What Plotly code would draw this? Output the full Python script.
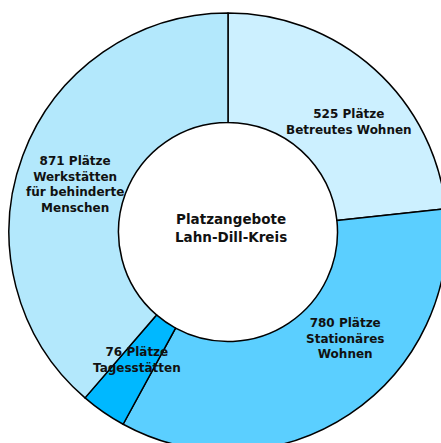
import plotly.graph_objects as go

categories = ["Betreutes Wohnen", "Stationäres Wohnen", "Tagesstätten", "Werkstätten für behinderte Menschen"]
label_lines = ["Betreutes Wohnen", "Stationäres<br>Wohnen", "Tagesstätten", "Werkstätten<br>für behinderte<br>Menschen"]
values = [525, 780, 76, 871]
colors = ["#CCF0FF", "#5BCFFF", "#00B8FF", "#B3E8FC"]
center_title = "Platzangebote<br>Lahn-Dill-Kreis"

W, H = 460, 460
# pie: centre (228,232) in page px, radius 219
cx, cy, r = 228, 232, 219

fig = go.Figure(go.Pie(
    labels=categories,
    values=values,
    hole=0.5,
    sort=False,
    direction="clockwise",
    rotation=0,
    marker=dict(colors=colors, line=dict(color="black", width=1.5)),
    textinfo="none",
    hoverinfo="label+value",
    showlegend=False,
    domain=dict(x=[(cx - r) / W, (cx + r) / W], y=[(H - cy - r) / H, (H - cy + r) / H]),
))

font = dict(family="DejaVu Sans", size=12, color="#111111")
label_pos = [(349, 122), (345, 338), (137, 360), (75, 184)]
for v, name, (px, py) in zip(values, label_lines, label_pos):
    fig.add_annotation(x=px / W, y=1 - py / H, xref="paper", yref="paper",
                       xanchor="center", yanchor="middle",
                       text=f"<b>{v} Plätze<br>{name}</b>", showarrow=False, font=font, align="center")
fig.add_annotation(x=231 / W, y=1 - 228 / H, xref="paper", yref="paper",
                   xanchor="center", yanchor="middle",
                   text=f"<b>{center_title}</b>", showarrow=False,
                   font=dict(family="DejaVu Sans", size=13.5, color="#111111"), align="center")

fig.update_layout(width=W, height=H, margin=dict(l=0, r=0, t=0, b=0),
                  paper_bgcolor="white", plot_bgcolor="white")
fig.write_html("out.html", config={"displayModeBar": False},
               post_script="document.body.style.margin='0';document.body.style.overflow='hidden';"
                           "document.documentElement.style.overflow='hidden';")
